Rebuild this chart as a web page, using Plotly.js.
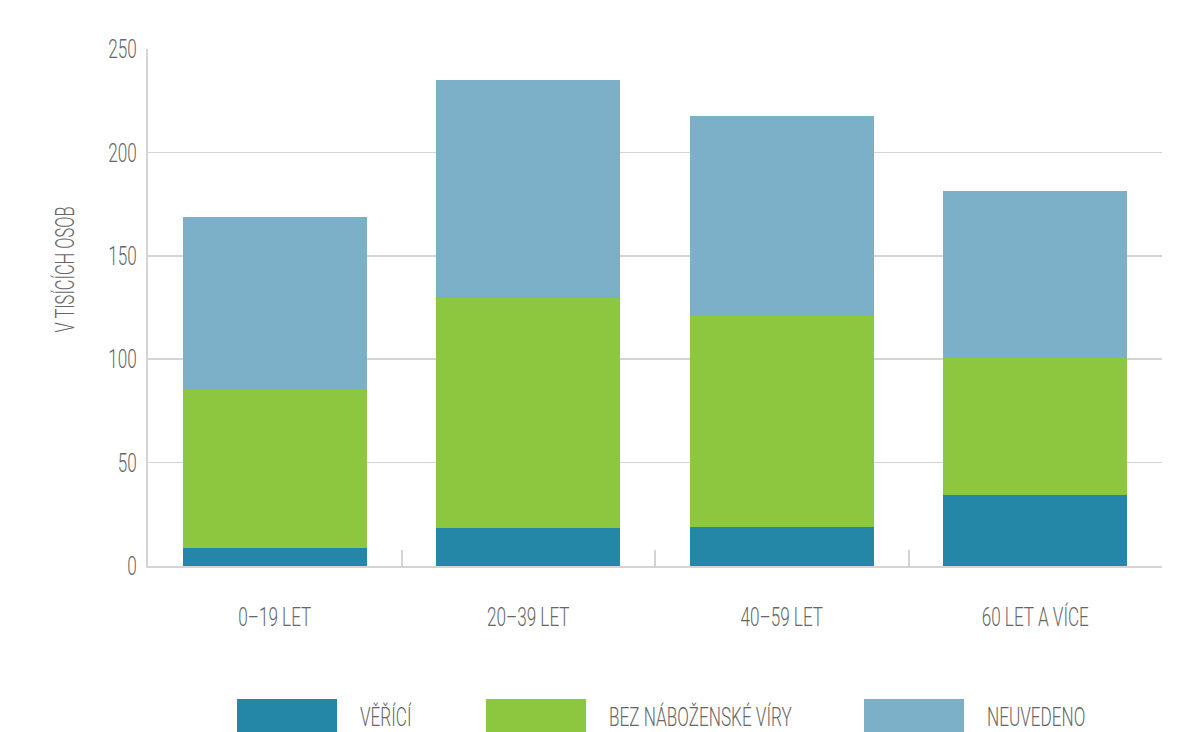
<!DOCTYPE html>
<html>
<head>
<meta charset="utf-8">
<script src="https://cdn.plot.ly/plotly-3.0.1.min.js"></script>
<style>
html,body{margin:0;padding:0;background:#fff;}
#chart{width:1187px;height:732px;}
</style>
</head>
<body>
<div id="chart"></div>
<script>
const categories = ['0–19 LET', '20–39 LET', '40–59 LET', '60 LET A VÍCE'];
const seriesNames = ['VĚŘÍCÍ', 'BEZ NÁBOŽENSKÉ VÍRY', 'NEUVEDENO'];
const vericiValues = [8.7, 18.4, 18.9, 34.3];
const bezViryValues = [76.9, 111.2, 102.0, 66.3];
const neuvedenoValues = [83.2, 105.4, 96.7, 80.7];
const yTickValues = [0, 50, 100, 150, 200, 250];

const colors = ['#2587a7', '#8dc63f', '#7cb0c9'];
const FONT = 'Roboto, "Open Sans", sans-serif';
const TXT = '#666666';
const FS = 26;          // font size
const FW = 300;         // font weight
const SQUEEZE = 0.66;   // horizontal condensing of text

const seriesValues = [vericiValues, bezViryValues, neuvedenoValues];
const traces = seriesValues.map((vals, i) => ({
  type: 'bar',
  name: seriesNames[i],
  x: categories,
  y: vals,
  marker: {color: colors[i], line: {width: 0}},
  showlegend: false,
  hoverinfo: 'x+y+name'
}));

const legendSwatchX = [237, 486, 864];
const W = 1187, H = 732;
const PL = 148, PR = 1162, PT = 49, PB = 566;
const px = x => (x - PL) / (PR - PL);
const py = y => (PB - y) / (PB - PT);
const fnt = (size) => ({family: FONT, size: size, color: TXT, weight: FW});

const shapes = [];
const annotations = [];
seriesNames.forEach((n, i) => {
  const x0 = legendSwatchX[i];
  shapes.push({
    type: 'rect', xref: 'paper', yref: 'paper',
    x0: px(x0), x1: px(x0 + 100),
    y0: py(732), y1: py(699),
    fillcolor: colors[i], line: {width: 0}
  });
  annotations.push({
    xref: 'paper', yref: 'paper',
    x: px(x0 + 121), y: py(717),
    xanchor: 'left', yanchor: 'middle', align: 'left', showarrow: false,
    text: n, font: fnt(FS)
  });
});
annotations.push({
  xref: 'paper', yref: 'paper',
  x: px(65), y: py(270),
  xanchor: 'center', yanchor: 'middle', showarrow: false, textangle: -90,
  text: 'V TISÍCÍCH OSOB', font: fnt(25)
});

const layout = {
  width: W, height: H,
  margin: {l: PL, r: W - PR, t: PT, b: H - PB},
  paper_bgcolor: '#fff', plot_bgcolor: '#fff',
  barmode: 'stack',
  bargap: 0.274,
  font: fnt(FS),
  xaxis: {
    type: 'category',
    showline: true, linecolor: '#d4d4d4', linewidth: 2,
    ticks: 'inside', tickson: 'boundaries', ticklen: 16, tickcolor: '#d4d4d4', tickwidth: 2,
    tickfont: fnt(FS),
    ticklabelstandoff: 27,
    showgrid: false, zeroline: false, fixedrange: true
  },
  yaxis: {
    range: [0, 250],
    tickvals: yTickValues,
    showline: true, linecolor: '#d4d4d4', linewidth: 2,
    showgrid: true, gridcolor: '#d4d4d4', gridwidth: 1.5,
    zeroline: false, ticks: '',
    ticklabelstandoff: 4,
    tickfont: fnt(FS),
    fixedrange: true
  },
  shapes: shapes,
  annotations: annotations,
  showlegend: false
};

Plotly.newPlot('chart', traces, layout, {displayModeBar: false, staticPlot: true}).then(gd => {
  // condense all text horizontally around its own anchor point
  gd.querySelectorAll('svg text').forEach(t => {
    const x = parseFloat(t.getAttribute('x')) || 0;
    const y = parseFloat(t.getAttribute('y')) || 0;
    const tr = t.getAttribute('transform') || '';
    t.setAttribute('transform',
      tr + ` translate(${x},${y}) scale(${SQUEEZE},1) translate(${-x},${-y})`);
  });
});
</script>
</body>
</html>
